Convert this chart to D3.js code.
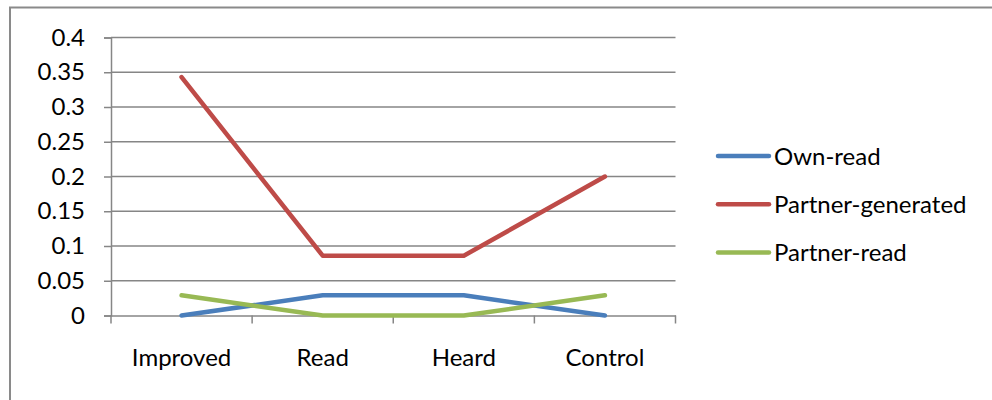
<!DOCTYPE html>
<html><head><meta charset="utf-8">
<script src="https://cdn.jsdelivr.net/npm/d3@7"></script>
<style>html,body{margin:0;padding:0;background:#fff;}svg{display:block;}text{font-family:Lato,"Open Sans",sans-serif;fill:#000;}</style>
</head><body>
<svg id="c" width="992" height="400"></svg>
<script>
const categories = ["Improved","Read","Heard","Control"];
const seriesNames = ["Own-read","Partner-generated","Partner-read"];
const ownRead = [0, 0.029, 0.029, 0];
const partnerGenerated = [0.343, 0.086, 0.086, 0.2];
const partnerRead = [0.029, 0, 0, 0.029];
const yTicks = [0,0.05,0.1,0.15,0.2,0.25,0.3,0.35,0.4];
const colors = ["#4A7EBB","#BE4B48","#98B954"];
const series = [ownRead, partnerGenerated, partnerRead];
const FS = "24px";

const svg = d3.select("#c");
svg.append("rect").attr("x",10).attr("y",7.5).attr("width",1000).attr("height",420)
  .attr("fill","none").attr("stroke","#8a8a8a").attr("stroke-width",2);

const x = d3.scaleBand().domain(categories).range([111,675.5]);
const y = d3.scaleLinear().domain([0,0.4]).range([315.5,37.5]);
const g = svg.append("g");
g.selectAll("line.grid").data(yTicks.slice(1)).join("line")
  .attr("x1",111).attr("x2",675.5).attr("y1",d=>y(d)).attr("y2",d=>y(d))
  .attr("stroke","#868686").attr("stroke-width",1.5);

const yAxis = d3.axisLeft(y).tickValues(yTicks).tickSize(7).tickPadding(19).tickFormat(d=>String(+d.toFixed(2)));
const ya = svg.append("g").attr("transform","translate(111,0)").call(yAxis);
ya.select(".domain").attr("stroke","#868686").attr("stroke-width",1.5);
ya.selectAll(".tick line").attr("stroke","#868686").attr("stroke-width",1.5);
ya.selectAll("text").style("font-size",FS).style("font-family","Lato").attr("fill","#000");

const xAxis = d3.axisBottom(x).tickSize(0).tickPadding(0);
const xa = svg.append("g").attr("transform","translate(0,315.5)").call(xAxis);
xa.select(".domain").attr("stroke","#868686").attr("stroke-width",1.5);
xa.selectAll(".tick text").attr("y",50).attr("dy",0).style("font-size",FS).style("font-family","Lato").attr("fill","#000");
const bounds = categories.map(c=>x(c)).concat([x.range()[1]]);
xa.selectAll("line.bt").data(bounds).join("line").attr("class","bt")
  .attr("x1",d=>d).attr("x2",d=>d).attr("y1",0).attr("y2",8)
  .attr("stroke","#868686").attr("stroke-width",1.5);

const line = d3.line().x((d,i)=>x(categories[i])+x.bandwidth()/2).y(d=>y(d));
series.forEach((s,k)=>{
  svg.append("path").attr("d",line(s)).attr("fill","none").attr("stroke",colors[k])
    .attr("stroke-width",4.5).attr("stroke-linecap","round").attr("stroke-linejoin","round");
});

const lg = svg.append("g");
seriesNames.forEach((n,k)=>{
  const yy = 156 + k*48.3;
  lg.append("line").attr("x1",718).attr("x2",769).attr("y1",yy).attr("y2",yy)
    .attr("stroke",colors[k]).attr("stroke-width",4.5).attr("stroke-linecap","round");
  lg.append("text").attr("x",774).attr("y",yy).attr("dy","0.36em").style("font-size",FS).text(n);
});
</script>
</body></html>
